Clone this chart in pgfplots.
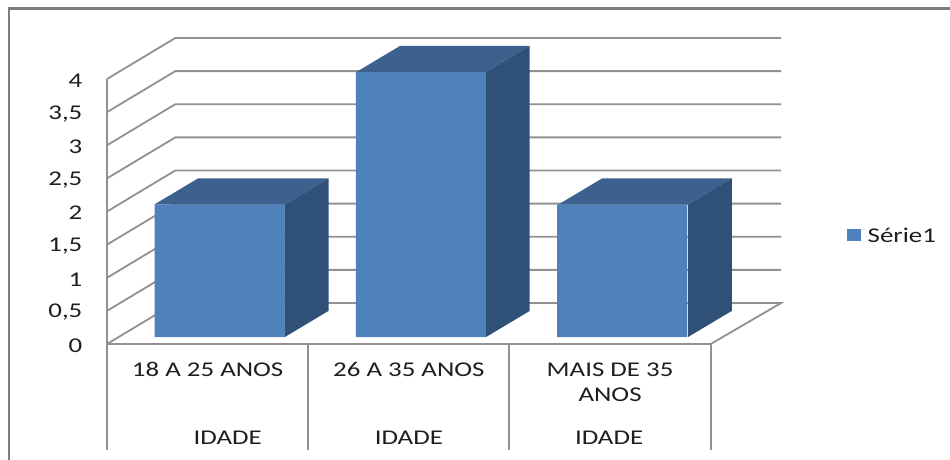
\documentclass[border=0pt]{standalone}
\usepackage{pgfplots}
\pgfplotsset{compat=1.18}
\usepackage{fontspec}
\setmainfont[FakeStretch=1.28]{Carlito}
\definecolor{barfront}{RGB}{79,129,189}
\definecolor{bartop}{RGB}{60,97,142}
\definecolor{barside}{RGB}{47,80,119}
\definecolor{gridc}{RGB}{145,145,145}
\definecolor{framec}{RGB}{125,125,125}
\definecolor{textc}{RGB}{30,30,30}
\begin{document}
\begin{tikzpicture}
  \useasboundingbox (0pt,0pt) rectangle (950pt,459pt);
  \begin{axis}[
    at={(107pt,115pt)},
    anchor=south west,
    scale only axis,
    width=603.7pt,
    height=265pt,
    xmin=0, xmax=3,
    ymin=0, ymax=4,
    clip=false,
    axis x line=bottom,
    axis y line=left,
    axis line style={-, gridc, line width=2pt},
    xtick={0.5,1.5,2.5},
    xticklabels={\strut 18 A 25 ANOS,\strut 26 A 35 ANOS,{\strut MAIS DE 35\\\strut ANOS}},
    x tick label style={align=center, anchor=north, yshift=-9pt, text=textc},
    ytick={0,0.5,1,1.5,2,2.5,3,3.5,4},
    y tick label style={anchor=east, xshift=-19pt, yshift=-1.5pt, text=textc},
    tick style={draw=none},
    /pgf/number format/use comma,
    /pgf/number format/assume math mode=true,
    tick label style={font=\fontsize{21}{25}\selectfont},
    legend style={at={(axis cs:3.66,1.63)}, anchor=west, draw=none, fill=none,
      font=\fontsize{21}{25}\selectfont, text=textc},
    legend image code/.code={\path (0pt,0pt) -- (19pt,0pt);\fill[barfront] (0pt,-12pt) rectangle (14pt,0pt);},
  ]
  % outer frame
  \addplot[forget plot, framec, line width=2.6pt] coordinates {(-0.487,-1.75)(-0.487,5.06)(4.2,5.06)};
  % walls and floor
  \addplot[forget plot, gridc, line width=1.8pt] coordinates {(0,0)(0.3395,0.619)(3.35,0.619)(3,0)};
  \addplot[forget plot, gridc, line width=1.8pt] coordinates {(0,0.5)(0.3395,1.119)(3.35,1.119)};
  \addplot[forget plot, gridc, line width=1.8pt] coordinates {(0,1)(0.3395,1.619)(3.35,1.619)};
  \addplot[forget plot, gridc, line width=1.8pt] coordinates {(0,1.5)(0.3395,2.119)(3.35,2.119)};
  \addplot[forget plot, gridc, line width=1.8pt] coordinates {(0,2)(0.3395,2.619)(3.35,2.619)};
  \addplot[forget plot, gridc, line width=1.8pt] coordinates {(0,2.5)(0.3395,3.119)(3.35,3.119)};
  \addplot[forget plot, gridc, line width=1.8pt] coordinates {(0,3)(0.3395,3.619)(3.35,3.619)};
  \addplot[forget plot, gridc, line width=1.8pt] coordinates {(0,3.5)(0.3395,4.119)(3.35,4.119)};
  \addplot[forget plot, gridc, line width=1.8pt] coordinates {(0,4)(0.3395,4.619)(3.35,4.619)};
  % separators under the axis
  \addplot[forget plot, gridc, line width=2pt] coordinates {(0,0)(0,-1.6)};
  \addplot[forget plot, gridc, line width=2pt] coordinates {(1,0)(1,-1.6)};
  \addplot[forget plot, gridc, line width=2pt] coordinates {(2,0)(2,-1.6)};
  \addplot[forget plot, gridc, line width=2pt] coordinates {(3,0)(3,-1.6)};
  % tops and sides of the bars
  \addplot[forget plot, fill=bartop, draw=none, yshift=6.8pt] coordinates {(0.2336,2)(0.4523,2.397)(1.1007,2.397)(0.882,2)} --cycle;
  \addplot[forget plot, fill=barside, draw=none, yshift=6.8pt] coordinates {(0.882,0)(1.1007,0.397)(1.1007,2.397)(0.882,2)} --cycle;
  \addplot[forget plot, fill=bartop, draw=none, yshift=6.8pt] coordinates {(1.2376,4)(1.4563,4.397)(2.1007,4.397)(1.882,4)} --cycle;
  \addplot[forget plot, fill=barside, draw=none, yshift=6.8pt] coordinates {(1.882,0)(2.1007,0.397)(2.1007,4.397)(1.882,4)} --cycle;
  \addplot[forget plot, fill=bartop, draw=none, yshift=6.8pt] coordinates {(2.2416,2)(2.4603,2.397)(3.1047,2.397)(2.886,2)} --cycle;
  \addplot[forget plot, fill=barside, draw=none, yshift=6.8pt] coordinates {(2.886,0)(3.1047,0.397)(3.1047,2.397)(2.886,2)} --cycle;
  % front faces
  \addplot[ybar, bar width=130pt, bar shift=0pt, fill=barfront, draw=none, xshift=12pt, yshift=6.8pt]
    coordinates {(0.5,2)(1.5,4)(2.5,2)};
  \addlegendentry{Série1}
  \node[text=textc, font=\fontsize{21}{25}\selectfont] at (axis cs:0.6,-1.41) {IDADE};
  \node[text=textc, font=\fontsize{21}{25}\selectfont] at (axis cs:1.5,-1.41) {IDADE};
  \node[text=textc, font=\fontsize{21}{25}\selectfont] at (axis cs:2.495,-1.41) {IDADE};
  \end{axis}
\end{tikzpicture}
\end{document}
